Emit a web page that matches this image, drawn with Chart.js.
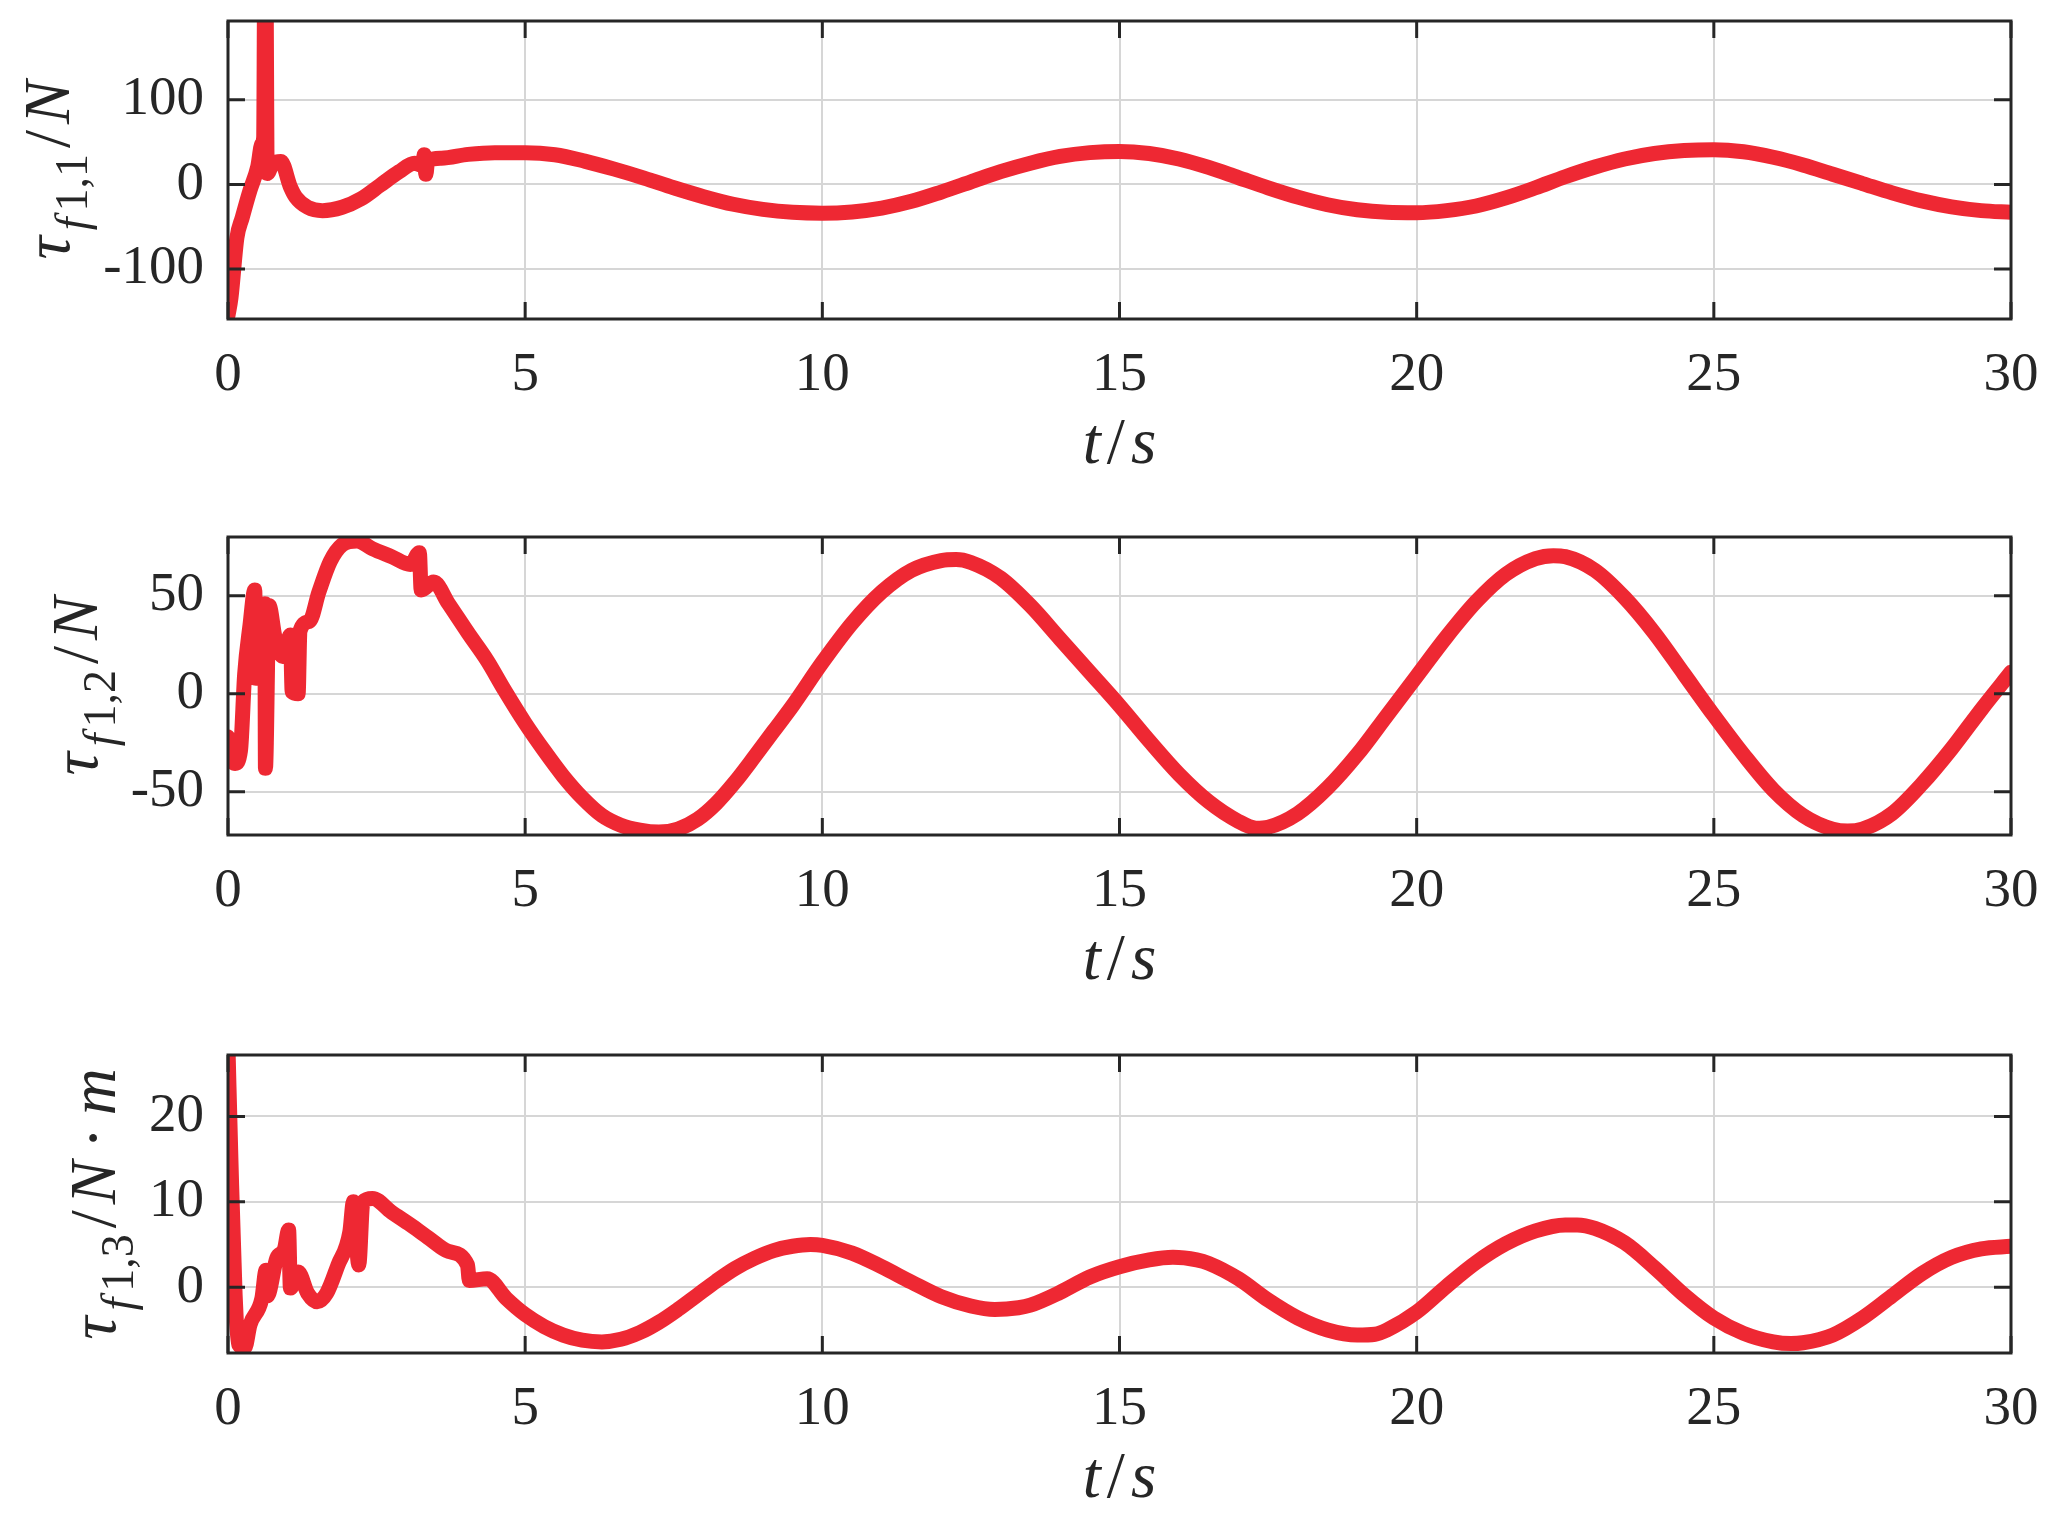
<!DOCTYPE html>
<html>
<head>
<meta charset="utf-8">
<script src="https://cdn.jsdelivr.net/npm/chart.js@4.4.1/dist/chart.umd.min.js"></script>
<style>
  html, body { margin: 0; padding: 0; background: #fff; overflow: hidden; }
  body { width: 2059px; height: 1513px; position: relative; }
  .panel { position: absolute; left: 0; width: 2059px; height: 480px; }
</style>
</head>
<body>
<div class="panel" style="top:0px"><canvas id="tau1"></canvas></div>
<div class="panel" style="top:516px"><canvas id="tau2"></canvas></div>
<div class="panel" style="top:1034px"><canvas id="tau3"></canvas></div>
<script>
// === Data ===

const xTicks = [0, 5, 10, 15, 20, 25, 30];

// tau_{f1,1} / N
const t1 = [0, 0.05, 0.15, 0.24, 0.37, 0.5, 0.57, 0.6, 0.62, 0.64, 0.66, 0.76, 0.89, 1.05, 1.14, 1.34, 1.59, 1.92, 2.24, 2.56, 2.88, 3.14, 3.28, 3.3, 3.33, 3.36, 3.59, 4.04, 4.49, 5, 5.5, 6, 6.5, 7, 7.5, 8, 8.5, 9, 9.5,
  10, 10.5, 11, 11.5, 12, 12.5, 13, 13.5, 14, 14.5, 15, 15.5, 16, 16.5, 17, 17.5, 18, 18.5, 19, 19.5, 20, 20.5, 21, 21.5, 22, 22.5, 23, 23.5, 24, 24.5, 25, 25.5, 26, 26.5, 27, 27.5, 28, 28.5, 29, 29.5, 30];
const tau1 = [-155, -134, -63, -39, -7, 21, 48, 55, 280, 240, 13, 25, 27, -3, -15, -27, -31, -27, -17, -1, 15, 25, 22, 35, 12, 28, 31, 35.5, 37.5, 37.5, 35, 27.5, 18, 7.5, -4, -14.5, -23.5, -29.5, -33,
  -34, -32.5, -28, -20, -9, 3, 15, 25, 33, 37.5, 39, 36.5, 30, 20, 8, -4, -15, -24, -30, -33, -33.5, -31, -25.5, -16, -4, 9, 20.5, 30, 36.5, 40, 41, 38.5, 32, 23, 12, 1, -10, -19.5, -26.5, -31, -33];
const yTicks1 = [-100, 0, 100];

// tau_{f1,2} / N
const t2 = [0, 0.05, 0.12, 0.21, 0.28, 0.37, 0.45, 0.47, 0.55, 0.62, 0.63, 0.69, 0.79, 0.92, 1.05, 1.08, 1.18, 1.21, 1.37, 1.53, 1.72, 1.92, 2.17, 2.43, 2.75, 3.07, 3.22, 3.25, 3.46, 3.71, 4.04, 4.36, 4.65, 5, 5.32, 5.64, 5.96, 6.29, 6.61, 6.93, 7.25, 7.57, 7.9, 8.21, 8.53, 8.86, 9.18, 9.5,
  10, 10.5, 11, 11.5, 12, 12.25, 12.5, 13, 13.5, 14, 14.5, 15, 15.5, 16, 16.5, 17, 17.3, 17.5, 18, 18.5, 19, 19.5, 20, 20.5, 21, 21.5, 22, 22.3, 22.5, 23, 23.5, 24, 24.5, 25, 25.5, 26, 26.5, 27, 27.25, 27.5, 28, 28.5, 29, 29.5, 30];
const tau2 = [-22, -32, -35.5, -29, 10, 35, 53, 8, 40, 46, -38, 45, 29, 19, 30, 1, 0, 32, 37, 52, 67.5, 76, 78, 74, 70, 66, 72, 53, 57, 46, 31, 17, 2, -15, -29, -42, -53, -62, -67, -69.5, -70.5, -69, -64, -56, -45, -32, -19, -6,
  16, 36, 52, 63, 68, 68.5, 67, 59, 45, 28, 11, -6, -24, -41, -55, -65, -68.5, -68, -61, -48, -31, -11, 9, 29, 47, 61, 69, 70.5, 70, 63, 49, 31, 10, -11, -31, -49, -62, -69, -70, -69, -61, -46, -28, -8, 11];
const yTicks2 = [-50, 0, 50];

// tau_{f1,3} / N.m
const t3 = [0, 0.05, 0.12, 0.18, 0.28, 0.37, 0.57, 0.64, 0.66, 0.82, 0.95, 1.02, 1.05, 1.18, 1.34, 1.5, 1.66, 1.85, 2.05, 2.11, 2.2, 2.27, 2.43, 2.75, 3.07, 3.39, 3.71, 4.03, 4.06, 4.36, 4.68, 5, 5.32, 5.64, 5.96, 6.29, 6.61, 6.93, 7.25, 7.57, 7.9, 8.21, 8.53, 8.86, 9.18, 9.5, 9.8,
  10, 10.5, 11, 11.5, 12, 12.5, 12.9, 13.3, 13.5, 14, 14.5, 15, 15.5, 15.9, 16.3, 16.5, 17, 17.5, 18, 18.5, 19, 19.3, 19.5, 20, 20.5, 21, 21.5, 22, 22.5, 22.7, 23, 23.5, 24, 24.5, 25, 25.5, 26, 26.3, 26.5, 27, 27.5, 28, 28.5, 29, 29.5, 30];
const tau3 = [28, 14.7, -0.9, -6.7, -7.1, -4.4, -1.3, 2, -1, 3.4, 4.5, 6.7, -0.1, 1.8, -0.7, -1.7, -0.7, 2.6, 6.5, 10, 2.6, 10, 10.4, 8.8, 7.3, 5.7, 4.2, 2.6, 0.8, 1, -1.3, -3.2, -4.6, -5.6, -6.2, -6.4, -6.1, -5.3, -4.1, -2.6, -0.9, 0.7, 2.2, 3.4, 4.3, 4.8, 5,
  4.9, 4, 2.4, 0.6, -1.1, -2.2, -2.6, -2.4, -2.1, -0.6, 1.2, 2.4, 3.2, 3.5, 3.2, 2.8, 1, -1.5, -3.6, -5, -5.6, -5.5, -5, -2.9, 0.1, 2.9, 5.1, 6.6, 7.3, 7.3, 6.9, 5.2, 2.3, -0.9, -3.6, -5.4, -6.4, -6.6, -6.5, -5.6, -3.6, -1, 1.6, 3.5, 4.5, 4.8];
const yTicks3 = [0, 10, 20];

// === Styling ===

const RED = "#ee2833";
const INK = "#262626";
const SERIF = "'Liberation Serif', 'Times New Roman', serif";
const TICK_FONT = 55;
const TITLE_FONT = 65;

// label pieces: [text, italic, size factor, baseline shift (em)]
const yLabel1 = [["τ", true, 1, 0], ["f", true, 0.7, 0.28], ["1,1", false, 0.7, 0.28], ["/", false, 1, 0], ["N", true, 1, 0]];
const yLabel2 = [["τ", true, 1, 0], ["f", true, 0.7, 0.28], ["1,2", false, 0.7, 0.28], ["/", false, 1, 0], ["N", true, 1, 0]];
const yLabel3 = [["τ", true, 1, 0], ["f", true, 0.7, 0.28], ["1,3", false, 0.7, 0.28], ["/", false, 1, 0], ["N", true, 1, 0], ["·", false, 1, 0], ["m", true, 1, 0]];
const xLabel = [["t", true, 1, 0], ["/", false, 1, 0], ["s", true, 1, 0]];

const GAP = 6;

function pieceFont(p) {
  return (p[1] ? "italic " : "") + Math.round(TITLE_FONT * p[2]) + "px " + SERIF;
}

function measurePieces(ctx, pieces) {
  let w = 0;
  pieces.forEach(p => {
    ctx.font = pieceFont(p);
    w += ctx.measureText(p[0]).width + (p[0] === "·" ? 3 * GAP : GAP);
  });
  return w - GAP;
}

function drawPieces(ctx, pieces, startX) {
  let cx = startX;
  pieces.forEach(p => {
    ctx.font = pieceFont(p);
    if (p[0] === "·") cx += GAP;
    ctx.fillText(p[0], cx, p[3] * TITLE_FONT);
    cx += ctx.measureText(p[0]).width + (p[0] === "·" ? 2 * GAP : GAP);
  });
}

// box, inner tick marks and axis titles (MATLAB look)
const framePlugin = {
  id: "frame",
  afterDraw(chart, args, opts) {
    const { ctx, chartArea: a } = chart;
    const xs = chart.scales.x;
    const ys = chart.scales.y;
    const tl = 17;

    ctx.save();
    ctx.strokeStyle = INK;
    ctx.lineWidth = 3;
    ctx.beginPath();
    xs.ticks.forEach(t => {
      const px = xs.getPixelForValue(t.value);
      ctx.moveTo(px, a.top); ctx.lineTo(px, a.top + tl);
      ctx.moveTo(px, a.bottom); ctx.lineTo(px, a.bottom - tl);
    });
    ys.ticks.forEach(t => {
      const py = ys.getPixelForValue(t.value);
      ctx.moveTo(a.left, py); ctx.lineTo(a.left + tl, py);
      ctx.moveTo(a.right, py); ctx.lineTo(a.right - tl, py);
    });
    ctx.stroke();
    ctx.strokeRect(a.left, a.top, a.right - a.left, a.bottom - a.top);

    ctx.fillStyle = INK;
    ctx.textAlign = "left";
    ctx.textBaseline = "alphabetic";

    // y title, rotated, sits left of the widest tick label
    ctx.font = TICK_FONT + "px " + SERIF;
    const maxW = Math.max(...ys.ticks.map(t => ctx.measureText(t.label).width));
    const baseX = a.left - 24 - maxW - 34;
    const wy = measurePieces(ctx, opts.yLabel);
    ctx.save();
    ctx.translate(baseX, (a.top + a.bottom) / 2);
    ctx.rotate(-Math.PI / 2);
    drawPieces(ctx, opts.yLabel, -wy / 2);
    ctx.restore();

    // x title
    const wx = measurePieces(ctx, xLabel);
    ctx.save();
    ctx.translate((a.left + a.right) / 2, a.bottom + 144);
    drawPieces(ctx, xLabel, -wx / 2);
    ctx.restore();

    ctx.restore();
  }
};

function makePanel(id, times, values, yMin, yMax, yTicks, yLabel) {
  const ctx = document.getElementById(id);
  return new Chart(ctx, {
    type: "line",
    data: {
      datasets: [{
        data: times.map((t, i) => ({ x: t, y: values[i] })),
        borderColor: RED,
        borderWidth: 15,
        pointRadius: 0,
        cubicInterpolationMode: "monotone",
        borderJoinStyle: "round",
        borderCapStyle: "round",
        fill: false
      }]
    },
    options: {
      responsive: true,
      maintainAspectRatio: false,
      animation: false,
      events: [],
      layout: { padding: { left: 0, right: 48, top: 21, bottom: 0 } },
      plugins: {
        legend: { display: false },
        tooltip: { enabled: false },
        frame: { yLabel: yLabel }
      },
      scales: {
        x: {
          type: "linear",
          min: 0,
          max: 30,
          afterBuildTicks: s => { s.ticks = xTicks.map(v => ({ value: v })); },
          afterFit: s => { s.height = 480 - 21 - 298; s.paddingLeft = 0; s.paddingRight = 0; },
          grid: { color: "#d6d6d6", lineWidth: 2, drawTicks: false },
          border: { display: false },
          ticks: {
            padding: 24,
            maxRotation: 0,
            color: INK,
            font: { family: SERIF, size: TICK_FONT }
          }
        },
        y: {
          min: yMin,
          max: yMax,
          afterBuildTicks: s => { s.ticks = yTicks.map(v => ({ value: v })); },
          afterFit: s => { s.width = 228; s.paddingTop = 0; s.paddingBottom = 0; },
          grid: { color: "#d6d6d6", lineWidth: 2, drawTicks: false },
          border: { display: false },
          ticks: {
            padding: 24,
            color: INK,
            font: { family: SERIF, size: TICK_FONT }
          }
        }
      }
    },
    plugins: [framePlugin]
  });
}

document.addEventListener("DOMContentLoaded", () => {
  makePanel("tau1", t1, tau1, -159, 193, yTicks1, yLabel1);
  makePanel("tau2", t2, tau2, -72, 80, yTicks2, yLabel2);
  makePanel("tau3", t3, tau3, -7.7, 27.2, yTicks3, yLabel3);
});
</script>
</body>
</html>
